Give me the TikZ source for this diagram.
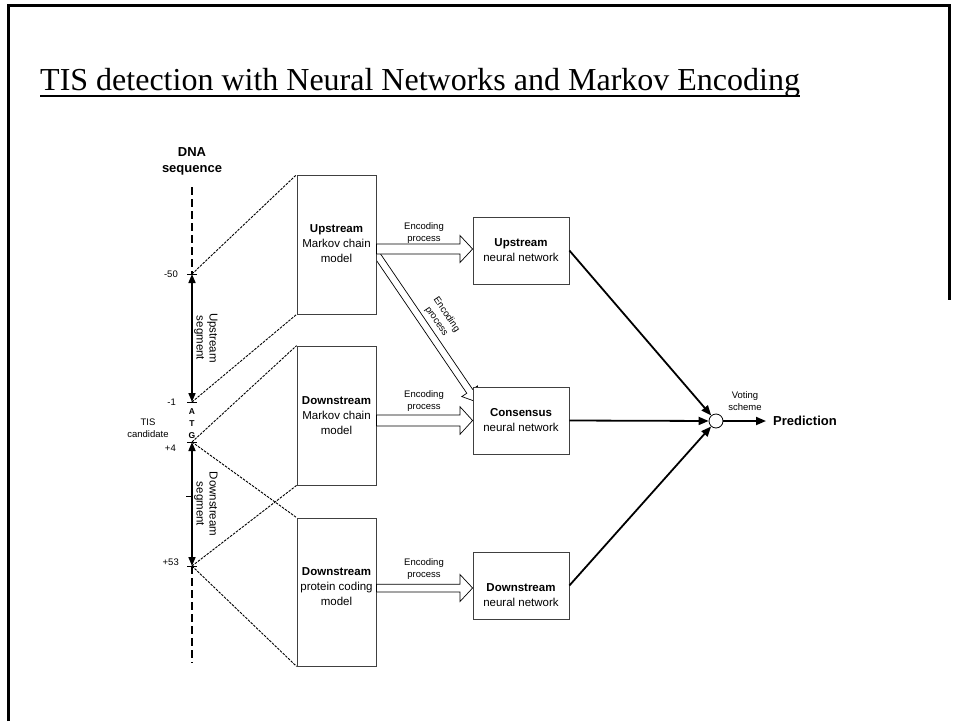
\documentclass[tikz,border=0pt]{standalone}
\usepackage{fontspec}
\setmainfont{Liberation Serif}
\newfontfamily\arial{Liberation Sans}
\usetikzlibrary{arrows.meta,calc}
\begin{document}
\begin{tikzpicture}[x=1pt,y=-1pt,
  boxnode/.style={draw=black!75, line width=0.8pt, fill=white, inner sep=0pt},
  boxtext/.style={align=center, inner sep=0pt, font=\arial\fontsize{11.5}{15}\selectfont},
  small/.style={font=\arial\fontsize{9.5}{12}\selectfont, align=center, inner sep=0pt},
  proj/.style={line width=0.9pt, dash pattern=on 2.5pt off 1.2pt},
  dnaarrow/.style={line width=1.6pt, {Triangle[width=7pt,length=9pt]}-{Triangle[width=7pt,length=9pt]}},
  dnadash/.style={line width=2pt, dash pattern=on 8pt off 4pt},
  tick/.style={line width=1pt},
  vote/.style={line width=1.8pt, -{Triangle[width=8pt,length=10pt]}},
  blockarr/.style={draw=black, line width=0.7pt, fill=white},
  seglbl/.style={font=\arial\fontsize{11.5}{13}\selectfont, align=center, inner sep=0pt, rotate=-90},
]
\useasboundingbox (0,0) rectangle (954,721);
% frame
\draw[line width=3pt] (8,721) -- (8,5) -- (949,5) -- (949,300);

% title
\node[anchor=base west, inner sep=0pt, font=\fontsize{32}{36}\selectfont] (title) at (40,90)
  {TIS detection with Neural Networks and Markov Encoding};
\draw[line width=2pt] ([yshift=-6pt]title.base west) -- ([yshift=-6pt]title.base east);

% DNA sequence
\node[font=\arial\bfseries\fontsize{13}{16}\selectfont, align=center, inner sep=0pt] (dnalbl) at (192,161) {DNA\\sequence};
\coordinate (dtop) at (192,187);
\coordinate (p50) at (192,274);
\coordinate (p1) at (192,402);
\coordinate (p4) at (192,442);
\coordinate (p53) at (192,566);
\coordinate (dbot) at (192,663);
\draw[dnadash] (dtop) -- (p50);
\draw[dnadash] (p53) -- (dbot);
\draw[dnaarrow] (p50) -- (p1);
\draw[dnaarrow] (p4) -- (p53);
\foreach \p in {p50,p1,p4,p53} \draw[tick] ([xshift=-5pt]\p) -- ([xshift=5pt]\p);
\draw[tick] (186,496) -- (192,496);

\node[font=\arial\bfseries\fontsize{8.5}{10}\selectfont, inner sep=0pt] (lA) at (192,412) {A};
\node[font=\arial\bfseries\fontsize{8.5}{10}\selectfont, inner sep=0pt] (lT) at (192,424) {T};
\node[font=\arial\bfseries\fontsize{8.5}{10}\selectfont, inner sep=0pt] (lG) at (192,436) {G};

\node[small, anchor=east] (l50) at (178,274) {-50};
\node[small, anchor=east] (l1) at (176,402) {-1};
\node[small, anchor=east] (l4) at (176,448) {+4};
\node[small, anchor=east] (l53) at (179,562) {+53};
\node[small] (tis) at (148,428.5) {TIS\\candidate};

\node[seglbl] (useg) at (206,338) {Upstream\\segment};
\node[seglbl] (dseg) at (206,504) {Downstream\\segment};

% diagonal block arrow (drawn under boxes)
\coordinate (ds) at (376,253.5);
\coordinate (de) at (477,402);
\draw[blockarr] let \p1=(ds), \p2=(de), \n1={atan2(\y2-\y1,\x2-\x1)}, \n2={veclen(\x2-\x1,\y2-\y1)} in
  [shift={(\p1)}, rotate=\n1] (0,3.5) -- (\n2-13,3.5) -- (\n2-13,9.5) -- (\n2,0) -- (\n2-13,-9.5) -- (\n2-13,-3.5) -- (0,-3.5) -- cycle;
\node[small, rotate=-55.8] (encd) at (441.5,318) {Encoding\\process};

% model boxes
\node[boxnode, minimum width=79pt, minimum height=139pt] (um) at (336.5,244.5) {};
\node[boxnode, minimum width=79pt, minimum height=139pt] (dm) at (336.5,415.5) {};
\node[boxnode, minimum width=79pt, minimum height=148pt] (pm) at (336.5,592) {};
\node[boxtext] (umt) at (336.5,244) {\textbf{Upstream}\\Markov chain\\model};
\node[boxtext] (dmt) at (336.5,415.5) {\textbf{Downstream}\\Markov chain\\model};
\node[boxtext] (pmt) at (336.5,587) {\textbf{Downstream}\\protein coding\\model};

% neural network boxes
\node[boxnode, minimum width=96pt, minimum height=67pt] (unn) at (521,250.5) {};
\node[boxnode, minimum width=96pt, minimum height=67pt] (cnn) at (521,420.5) {};
\node[boxnode, minimum width=96pt, minimum height=67pt] (dnn) at (521,585.5) {};
\node[boxtext] (unnt) at (521,250) {\textbf{Upstream}\\neural network};
\node[boxtext] (cnnt) at (521,420) {\textbf{Consensus}\\neural network};
\node[boxtext] (dnnt) at (521,595) {\textbf{Downstream}\\neural network};

% projection lines
\draw[proj] (p50) -- (um.north west);
\draw[proj] (p1) -- (um.south west);
\draw[proj] (p4) -- (dm.north west);
\draw[proj] (p53) -- (dm.south west);
\draw[proj] (p4) -- (pm.north west);
\draw[proj] (p53) -- (pm.south west);

% horizontal block arrows
\draw[blockarr] (um.east |- 0,244) -- (460,244) -- (460,235.5) -- (unn.west |- 0,249) -- (460,262.5) -- (460,254) -- (um.east |- 0,254) -- cycle;
\draw[blockarr] (dm.east |- 0,415) -- (460,415) -- (460,406.7) -- (cnn.west |- 0,420.5) -- (460,434.3) -- (460,426) -- (dm.east |- 0,426) -- cycle;
\draw[blockarr] (pm.east |- 0,584.3) -- (460,584.3) -- (460,574.5) -- (dnn.west |- 0,588) -- (460,601.5) -- (460,592) -- (pm.east |- 0,592) -- cycle;
\node[small] (enc1) at (424,233) {Encoding\\process};
\node[small] (enc2) at (424,401.5) {Encoding\\process};
\node[small] (enc3) at (424,569) {Encoding\\process};

% voting
\node[draw, circle, line width=0.8pt, minimum size=14pt, inner sep=0pt, fill=white] (vc) at (716,421) {};
\draw[vote] (unn.east) -- (vc);
\draw[vote] (cnn.east) -- (vc);
\draw[vote] (dnn.east) -- (vc);
\coordinate (outend) at (766,421);
\draw[vote] (vc) -- (outend);
\node[small] (vs) at (745,401.5) {Voting\\scheme};
\node[anchor=west, inner sep=0pt, font=\arial\bfseries\fontsize{13}{16}\selectfont] (pred) at (773,421) {Prediction};
\end{tikzpicture}
\end{document}
